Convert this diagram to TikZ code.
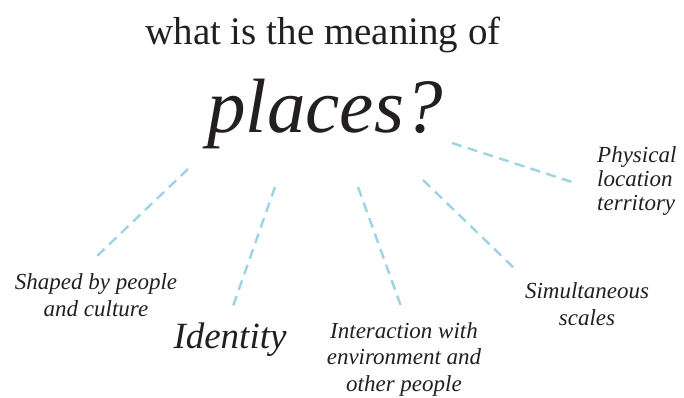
\documentclass[tikz,border=0pt]{standalone}
\usepackage{fontspec}
\setmainfont{Liberation Serif}
\definecolor{ink}{HTML}{231F20}
\definecolor{dashblue}{HTML}{9DD3E3}
\begin{document}
\begin{tikzpicture}[x=1pt,y=-1pt,
  lbl/.style={text=ink,inner sep=0pt,font=\fontsize{23}{26.5}\selectfont\itshape,align=center},
  conn/.style={draw=dashblue,line width=2.4pt,dash pattern=on 10pt off 6.5pt}]
\useasboundingbox (0,0) rectangle (684,398);
\node[text=ink,inner sep=0pt,anchor=base,font=\fontsize{39}{44}\selectfont] (title) at (323,45) {what is the meaning of};
\node[text=ink,inner sep=0pt,anchor=base,font=\fontsize{77}{80}\selectfont\itshape] (places) at (325,132) {places?};
\node[lbl,anchor=base] (shaped) at (96,316) {Shaped by people\\and culture};
\node[text=ink,inner sep=0pt,anchor=base,font=\fontsize{37}{40}\selectfont\itshape] (identity) at (230,348) {Identity};
\node[lbl,anchor=base] (interact) at (404,391) {Interaction with\\environment and\\other people};
\node[lbl,anchor=base] (simul) at (587,325) {Simultaneous\\scales};
\node[lbl,anchor=base west,align=left,font=\fontsize{23}{24}\selectfont\itshape] (phys) at (597,210) {Physical\\location\\territory};
\coordinate (a1) at (188,169); \coordinate (b1) at (95,258);
\coordinate (a2) at (275,187); \coordinate (b2) at (232,309);
\coordinate (a3) at (358,187); \coordinate (b3) at (402,309);
\coordinate (a4) at (423,180); \coordinate (b4) at (515,269);
\coordinate (a5) at (452,143); \coordinate (b5) at (575,183);
\draw[conn] (a1) -- (b1);
\draw[conn] (a2) -- (b2);
\draw[conn] (a3) -- (b3);
\draw[conn] (a4) -- (b4);
\draw[conn] (a5) -- (b5);
\end{tikzpicture}
\end{document}
